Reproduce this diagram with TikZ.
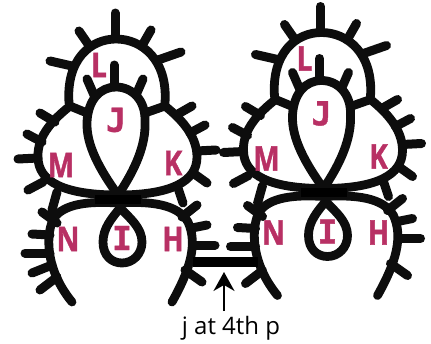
\documentclass[tikz,border=0pt]{standalone}
\usepackage{fontspec}
\setmainfont{Open Sans}
\newfontfamily\letterfont[FakeStretch=0.82,FakeBold=1.2]{Open Sans}
\newfontfamily\slabfont[FakeBold=1.2]{DejaVu Sans Mono}
\definecolor{letterred}{RGB}{184,48,100}
\usetikzlibrary{arrows.meta}
\begin{document}
\begin{tikzpicture}[
  x=1pt,y=-1pt,
  ring/.style={draw=black!95,line width=8.8pt,line cap=round,line join=round},
  picot/.style={draw=black!95,line width=9pt,line cap=round},
  letter/.style={text=letterred,inner sep=0pt,font=\letterfont\bfseries\fontsize{34}{34}\selectfont},
  slab/.style={text=letterred,inner sep=0pt,font=\slabfont\bfseries\fontsize{33}{33}\selectfont}
]
  \useasboundingbox (0,0) rectangle (431,343);

  \foreach \m/\dx/\dy in {a/0/0,b/205.5/-6.5}{
    \begin{scope}[shift={(\dx,\dy)}]
      % rings
      \draw[ring] (69,103) .. controls (66,60) and (90,39) .. (116,39)
                  .. controls (142,39) and (168,60) .. (165,103);
      \draw[ring] (118,195) .. controls (100,170) and (86,145) .. (87,122)
                  .. controls (88,100) and (100,87) .. (116,87)
                  .. controls (132,87) and (146,100) .. (145,122)
                  .. controls (146,145) and (135,170) .. (118,195);
      \draw[ring] (87,113) -- (70,106) .. controls (55,118) and (37,135) .. (38,157)
                  .. controls (38,182) and (65,195) .. (118,195);
      \draw[ring] (145,113) -- (165,106) .. controls (180,118) and (197,135) .. (197,157)
                  .. controls (197,182) and (170,195) .. (118,195);
      \draw[ring] (120,208) .. controls (112,218) and (103,228) .. (103,242)
                  .. controls (103,256) and (112,263) .. (122,263)
                  .. controls (133,263) and (142,254) .. (142,242)
                  .. controls (142,228) and (130,218) .. (120,208);
      % chains
      \draw[ring] (118,203) .. controls (88,201) and (64,204) .. (54,218)
                  .. controls (46,232) and (44,268) .. (72,302);
      \draw[ring] (118,203) .. controls (150,201) and (178,204) .. (188,222)
                  .. controls (198,244) and (190,270) .. (172,302);
      \draw[line width=9pt] (95,199) -- (141,199);
      % picots
      \foreach \xa/\ya/\xb/\yb in {
        115/13/115/38, 79/31/88/44, 151/30/143/44, 50/61/72/66, 181/52/158/60,
        114/65/114/87, 87/79/94/95, 143/79/136/95,
        40/113/55/122, 27/134/42/142, 18/159/38/158, 28/190/43/182, 52/210/57/192,
        192/106/178/114, 205/125/190/133, 216/150/197/151, 207/183/193/173, 183/203/178/188,
        42/212/57/223, 32/234/50/235, 25/253/50/253, 40/290/57/277,
        197/205/182/217, 207/225/192/228, 215/245/193/245, 202/282/185/270}
        \draw[picot] (\xa,\ya) -- (\xb,\yb);
      % letters
      \node[letter] (L\m) at (99,65) {L};
      \node[slab]   (J\m) at (116,120) {J};
      \node[letter] (M\m) at (61,165) {M};
      \node[letter] (K\m) at (173,163) {K};
      \node[letter] (N\m) at (68,239) {N};
      \node[slab]   (I\m) at (122,238) {I};
      \node[letter] (H\m) at (173,239) {H};
    \end{scope}
  }
  \draw[picot] (32,273) -- (52,265);

  % join between the two
  \coordinate (joinL) at (193,262);
  \coordinate (joinR) at (258,262);
  \coordinate (tip) at (224,272);
  \coordinate (tail) at (224,311);
  \draw[line width=10pt] (joinL) -- (joinR);

  \node[font=\fontsize{24}{24}\selectfont,inner sep=0pt] (note) at (231,328) {j at 4th p};
  \draw[-{Stealth[length=19pt,width=21pt,inset=6pt]},line width=1.4pt] (tail) -- (tip);
\end{tikzpicture}
\end{document}
